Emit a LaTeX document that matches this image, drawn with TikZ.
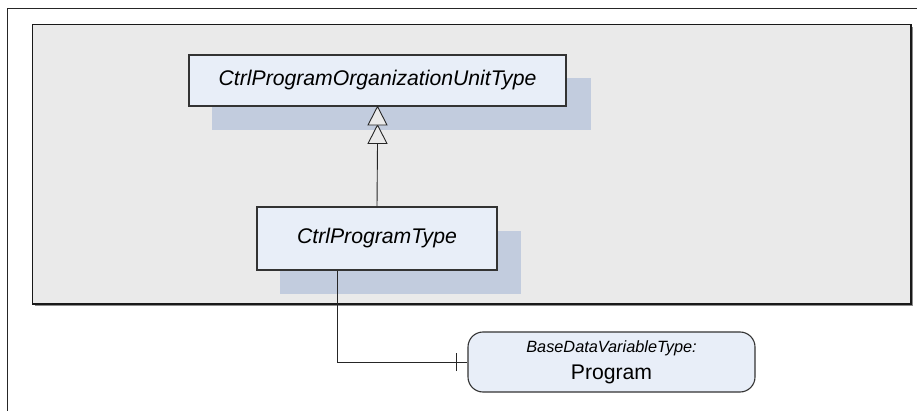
\documentclass[tikz,border=0pt]{standalone}
\usepackage{fontspec}
\setmainfont{Liberation Sans}
\usetikzlibrary{calc}
\definecolor{boxfill}{HTML}{E8EEF8}
\definecolor{shadowc}{HTML}{C2CCDE}
\definecolor{bggray}{HTML}{EAEAEA}
\definecolor{edgec}{HTML}{333333}
\tikzset{
  classbox/.style={draw=edgec, line width=1.1pt, fill=boxfill, inner sep=0pt,
    font=\fontsize{21.2}{24}\selectfont\itshape},
  varbox/.style={draw=edgec, line width=1.1pt, fill=boxfill, inner sep=0pt,
    rounded corners=15pt, align=center},
  conn/.style={draw=black!85, line width=0.9pt},
  opentri/.style={draw=black!85, line width=0.9pt, fill=bggray, line join=miter},
}
\begin{document}
\begin{tikzpicture}[x=1pt,y=-1pt]
\useasboundingbox (0,0) rectangle (917,411);
% outer frame
\draw[line width=1.8pt, black!85] (7.5,411) -- (7.5,8.5) -- (917,8.5);
% inner grey area
\fill[black!45] (35,27) rectangle (913,306);
\fill[bggray] (32.5,24.5) rectangle (911,304);
\draw[line width=1.6pt, black!90] (32.5,24.5) rectangle (911,304);
% shadows
\fill[shadowc] (212,78) rectangle (591,130);
\fill[shadowc] (280,231) rectangle (521,294);
% nodes
\node[classbox, minimum width=377pt, minimum height=51pt] (b1) at (377.5,80.5) {CtrlProgramOrganizationUnitType};
\node[classbox, minimum width=240pt, minimum height=63pt] (b2) at (377,238.5) {CtrlProgramType};
\node[varbox, minimum width=287pt, minimum height=60pt] (prog) at (611.5,362)
  {{\fontsize{16.3}{18}\selectfont\itshape BaseDataVariableType:}\\[8pt]{\fontsize{21.2}{22}\selectfont Program}};
% generalization connector with double open triangle
\coordinate (t1) at (b1.south);
\coordinate (t2) at ($(b1.south)+(0,18.5)$);
\coordinate (t3) at ($(b1.south)+(0,37)$);
\draw[conn] (b2.north) -- (t3);
\draw[opentri] (t2) -- ++(-9.5,18.5) -- ++(19,0) -- cycle;
\draw[opentri] (t1) -- ++(-9.5,18.5) -- ++(19,0) -- cycle;
% association connector
\draw[conn] ([xshift=-40pt]b2.south) |- (prog.west);
\draw[conn] ([xshift=-11pt,yshift=-9pt]prog.west) -- ([xshift=-11pt,yshift=9pt]prog.west);
\end{tikzpicture}
\end{document}
